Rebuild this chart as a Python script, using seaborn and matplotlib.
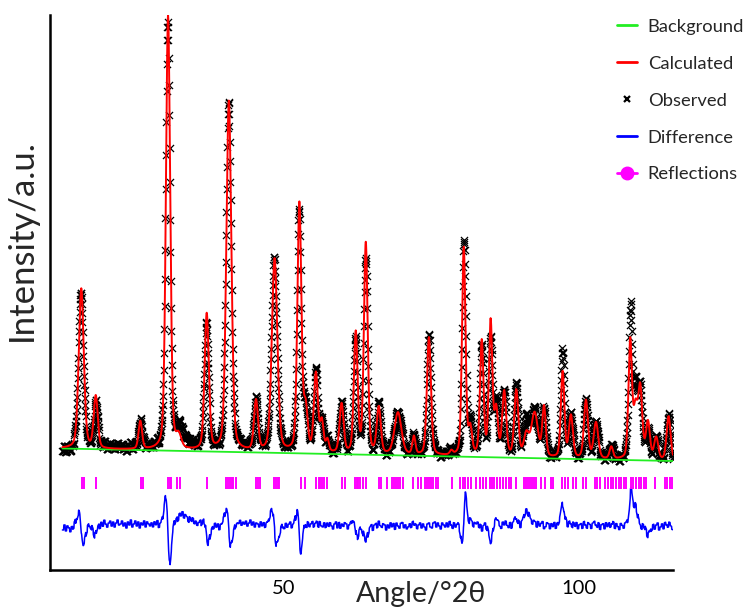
import numpy as np
import pandas as pd
import matplotlib
matplotlib.use("Agg")
import matplotlib.pyplot as plt
from matplotlib.lines import Line2D
import seaborn as sns

# ---- refinement data (intensity in arbitrary units) ----
ANGLE_START = 12.5
ANGLE_STEP = 0.05
N_POINTS = 2070

# linear background level at the two ends of the scan
BG_START = 121.5
BG_END = 109.0

# reflection peaks: calculated position, calculated height, observed height,
# observed position offset and full width at half maximum (deg 2theta)
peak_pos = [15.70, 18.15, 25.70, 30.40, 32.20, 33.00, 36.95, 40.70, 45.30, 48.45,
            52.65, 53.70, 55.45, 56.45, 57.40, 59.80, 62.20, 63.90, 66.10, 69.35,
            72.05, 74.60, 78.40, 80.50, 81.60, 83.55, 85.05, 86.00, 87.35, 89.40,
            91.10, 92.50, 94.10, 97.25, 98.65, 101.20, 102.90, 105.50, 108.70, 109.60,
            110.40, 111.70, 113.10, 115.20]
calc_height = [160, 52, 28, 435, 12, 0, 136, 350, 50, 193,
               248, 42, 78, 30, 12, 49, 120, 210, 46, 42,
               18, 118, 4, 208, 26, 114, 134, 45, 64, 66,
               22, 44, 50, 86, 42, 58, 36, 12, 118, 48,
               70, 37, 22, 44]
obs_height = [158, 42, 28, 425, 14, 8, 126, 345, 50, 190,
              238, 45, 80, 30, 13, 50, 117, 195, 48, 43,
              20, 118, 5, 216, 30, 112, 118, 50, 65, 72,
              35, 46, 50, 108, 45, 60, 38, 14, 148, 66,
              70, 28, 22, 46]
obs_shift = [-0.08, 0.04, 0.0, -0.05, 0.0, 0.0, -0.05, -0.04, 0.0, -0.07,
             -0.05, 0.0, 0.0, 0.0, 0.0, 0.0, -0.04, 0.0, 0.0, 0.0,
             0.0, 0.0, 0.0, 0.06, 0.0, 0.0, 0.0, 0.0, 0.0, 0.0,
             0.0, 0.0, 0.0, 0.0, 0.0, 0.0, 0.0, 0.0, 0.03, 0.0,
             0.0, 0.0, 0.0, 0.0]
peak_fwhm = [1.0, 0.8, 0.7, 0.85, 1.0, 2.2, 0.85, 1.0, 0.8, 1.1,
             0.8, 0.8, 0.8, 0.7, 0.6, 0.8, 0.75, 0.75, 0.8, 1.4,
             0.6, 0.8, 0.6, 0.7, 0.7, 0.7, 0.7, 0.7, 0.8, 0.8,
             1.0, 1.3, 0.7, 0.7, 0.8, 0.8, 0.9, 0.7, 0.7, 0.8,
             0.8, 0.8, 0.8, 0.8]

# counting-noise residual of the observed scan, one value per 0.25 deg
resid = [
    -4, 1, -5, 0, -2, -6, -1, -4, 2, -3, -5, 0, -2, 1, -1, 3, -2, 4, 1, -1,
    4, -1, 5, 1, 3, -2, 4, 0, 6, 2, -1, 3, 5, 0, 4, -1, 3, 6, 1, 2,
    5, 0, 3, -2, 4, 1, 6, -1, 2, 5, 0, 4, -2, 3, 1, 5, -1, 4, 2, 0,
    3, -1, 4, 1, 5, -2, 2, 4, 0, 3, -1, 2, 5, 0, 3, 6, 1, 4, -1, 5,
    2, 6, 0, 4, 3, -1, 5, 2, 6, 1, 4, 0, 3, 5, -1, 2, -3, 1, -2, 3,
    -3, 1, -2, 3, -1, 2, -4, 1, 0, 3, -2, 2, 4, 0, 5, 2, 6, 1, 4, 3,
    6, 1, 4, 2, 5, 0, 3, 6, 1, 4, -1, 3, 2, -1, 4, 0, 3, -2, 2, 1,
    -2, 3, 0, 4, -3, 2, 1, -1, 4, 0, -2, 3, -1, 2, 4, -2, 1, 3, -3, 2,
    3, -1, 2, 4, 0, -3, 3, -1, 2, 4, -2, 1, 3, -2, 4, 0, -1, 3, -2, 2,
    -1, 3, 0, -3, 2, 4, -2, 3, -3, 1, -1, 3, 2, -3, 1, 3, 0, -2, -4, 2,
    -3, 2, -1, -4, 2, -1, 3, -3, 1, 2, -4, 1, 2, -3, 3, -1, -2, 2, 1, -4,
    1, -2, 3, -1, 2, -4, 2, -1, -3, 2, 3, -2, 1, -3, -1, 2, -2, 3, -1, 1,
    -3, 1, 3, -2, 2, -1, -4, 2, 3, -1, -2, 3, 4, -1, 3, 0, -3, 3, 1, -1,
    3, -1, 4, 0, -3, 3, -1, 2, 4, -2, 2, 3, -1, 4, 0, -3, 3, 2, -2, 3,
    2, 4, -1, 3, -3, 2, 4, -2, 3, 0, -2, 3, -1, 4, 2, 3, -1, -3, 3, 0,
    4, 0, -2, 3, -3, 2, 4, 1, -2, 2, -4, 2, 3, -1, 4, 0, 5, 3, -1, 3,
    2, -3, 3, -1, 2, 4, -3, -1, 3, 2, -3, 2, -1, 3, -3, 2, -1, 3, 2, -3,
    -1, 3, -3, 2, -1, -4, 2, -1, 3, -3, 1, 2, -3, 3, -1, -4, 2, 1, -3, 2,
    3, -1, -3, 2, -4, 1, 2, -3, 3, -1, 2, -3, 0, 3, -3, 2, -1, -4, 2, 0,
    -3, 2, 3, -1, -3, 4, 2, -2, 3, -3, 2, -1, -4, 2, -1, 3, -3, 2, 0, -3,
    2, -3, 1, 3, -4, -1, 2, -3, 3, 0, -3, 2, -1, -4,
]

# tick-mark positions of the allowed reflections (deg 2theta)
reflections = [
    15.90, 16.14, 18.23, 25.85, 26.18, 30.41, 30.70, 30.92, 31.89, 32.45,
    36.96, 40.23, 40.57, 40.91, 41.19, 41.46, 41.87, 45.30, 45.59, 45.98,
    48.40, 48.69, 48.98, 49.20, 52.87, 53.65, 55.51, 55.92, 56.22, 56.47,
    56.81, 57.37, 59.81, 60.36, 62.06, 62.40, 62.65, 62.90, 63.36, 63.92,
    66.17, 66.46, 67.42, 68.27, 68.65, 68.99, 69.32, 69.67, 70.23, 71.87,
    72.72, 73.34, 73.90, 74.24, 74.58, 74.92, 75.25, 75.76, 76.10, 78.59,
    79.94, 80.33, 80.75, 81.18, 81.80, 82.65, 83.21, 83.77, 84.34, 84.90,
    85.24, 85.66, 86.08, 86.59, 87.10, 87.61, 88.11, 88.57, 89.42, 90.65,
    90.99, 91.33, 91.67, 92.01, 92.34, 92.80, 93.65, 94.21, 95.34, 95.61,
    97.20, 97.59, 98.15, 99.00, 99.57, 100.69, 101.27, 102.66, 103.09, 103.51,
    104.36, 104.87, 105.37, 105.76, 106.34, 106.73, 107.15, 107.57, 108.03, 108.87,
    109.15, 109.72, 110.11, 110.53, 110.96, 111.41, 112.82, 114.51, 114.94, 115.36,
    115.78,
]

DIFF_OFFSET = 44.0
TICK_LEVEL = 87.0

x_ticks = [25, 50, 75, 100]
x_tick_labels = ["", "50", "", "100"]


def pseudo_voigt(x, centre, height, fwhm, eta=0.3):
    d = (x - centre) / fwhm
    gauss = np.exp(-4.0 * np.log(2.0) * d ** 2)
    lorentz = 1.0 / (1.0 + 4.0 * d ** 2)
    return height * (eta * lorentz + (1.0 - eta) * gauss)


angle = ANGLE_START + ANGLE_STEP * np.arange(N_POINTS)
background = BG_START + (angle - angle[0]) * (BG_END - BG_START) / (angle[-1] - angle[0])

calculated = background.copy()
observed = background.copy()
for p, hc, ho, s, w in zip(peak_pos, calc_height, obs_height, obs_shift, peak_fwhm):
    calculated += pseudo_voigt(angle, p, hc, w)
    observed += pseudo_voigt(angle, p + s, ho, w)
observed += np.repeat(np.asarray(resid, dtype=float), 5)[:N_POINTS]
difference = observed - calculated + DIFF_OFFSET

df = pd.DataFrame({"angle": angle, "observed": observed, "calculated": calculated,
                   "background": background, "difference": difference})
refl = pd.DataFrame({"angle": reflections, "level": TICK_LEVEL})

# ---- figure ----
sns.set_style("white")
plt.rcParams["font.family"] = ["Lato", "DejaVu Sans"]

fig = plt.figure(figsize=(7.5, 6.08), dpi=100)
ax = fig.add_axes([50 / 750, 38 / 608, 623 / 750, 555 / 608])

RED = "#ff0000"
GREEN = "#22ee22"
BLUE = "#0000ff"
MAGENTA = "#ff00ff"

sns.scatterplot(data=df, x="angle", y="observed", marker="x", color="black",
                s=26, linewidth=0.9, ax=ax, zorder=2, legend=False)
sns.lineplot(data=df, x="angle", y="background", color=GREEN, lw=1.3,
             ax=ax, zorder=3, estimator=None, sort=False)
sns.lineplot(data=df, x="angle", y="calculated", color=RED, lw=1.4,
             ax=ax, zorder=4, estimator=None, sort=False)
sns.lineplot(data=df, x="angle", y="difference", color=BLUE, lw=1.1,
             ax=ax, zorder=3, estimator=None, sort=False)
sns.scatterplot(data=refl, x="angle", y="level", marker="|", color=MAGENTA,
                s=80, linewidth=1.4, ax=ax, zorder=3, legend=False)

ax.set_xlim(10.4, 115.95)
ax.set_ylim(0, 555)
ax.set_xticks(x_ticks)
ax.set_xticklabels(x_tick_labels)
ax.set_yticks([])
ax.tick_params(axis="x", direction="out", length=5, width=1.5, colors="black",
               labelsize=14.5, pad=2)

for side in ("top", "right"):
    ax.spines[side].set_visible(False)
for side in ("left", "bottom"):
    ax.spines[side].set_color("black")
    ax.spines[side].set_linewidth(1.8)

ax.set_xlabel("Angle/°2θ", fontsize=20.5)
ax.xaxis.label.set_verticalalignment("baseline")
ax.xaxis.set_label_coords(0.595, -0.058)
ax.set_ylabel("Intensity/a.u.", fontsize=25)
ax.yaxis.set_label_coords(-0.02, 0.595)

handles = [
    Line2D([], [], color=GREEN, lw=2),
    Line2D([], [], color=RED, lw=2),
    Line2D([], [], color="black", lw=0, marker="x", markersize=5, markeredgewidth=1.6),
    Line2D([], [], color=BLUE, lw=2),
    Line2D([], [], color=MAGENTA, lw=2, marker="o", markersize=9),
]
labels = ["Background", "Calculated", "Observed", "Difference", "Reflections"]
fig.legend(handles, labels, loc="upper left", bbox_to_anchor=(0.822, 0.969),
           frameon=False, fontsize=13.2, handlelength=1.1, handletextpad=0.6,
           labelspacing=1.14, borderaxespad=0, borderpad=0)

fig.savefig("out.png", dpi=100)
